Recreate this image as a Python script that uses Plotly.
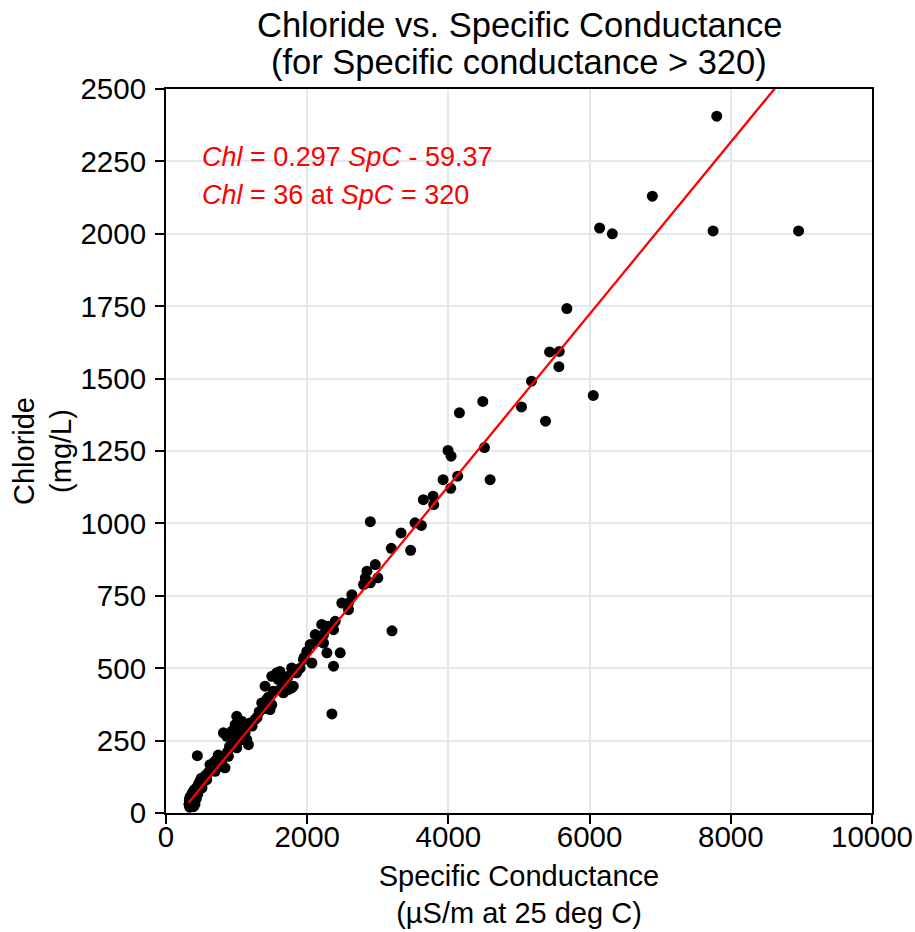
import plotly.graph_objects as go

# Specific conductance (µS/m at 25 deg C)
spc = [325, 330, 335, 340, 345, 350, 355, 360, 365, 370, 375, 380, 385, 390, 395,
       400, 405, 410, 415, 420, 430, 440, 450, 460, 470, 480, 444, 490, 500, 510,
       520, 540, 560, 577, 600, 624, 640, 660, 680, 695, 695, 720, 740, 766, 789,
       813, 836, 860, 870, 884, 900, 931, 931, 950, 979, 1002, 1002, 1020, 1050, 1073,
       1073, 1100, 1120, 1144, 1167, 1191, 1220, 1262, 1290, 1320, 1356, 1380, 1403, 1427, 1450,
       1473, 1498, 1498, 1520, 1568, 1592, 1615, 1615, 1639, 1662, 1686, 1733, 1733, 1780, 1780,
       1804, 1851, 1900, 1947, 1957, 1995, 2043, 2066, 2113, 2137, 2160, 2206, 2231, 2231, 2279,
       2302, 2350, 2373, 2373, 2397, 2468, 2490, 2585, 2585, 2633, 2799, 2823, 2846, 2894, 2894,
       2964, 3000, 3191, 3201, 3329, 3465, 3527, 3617, 3645, 3783, 3792, 3925, 3995, 4033, 4038,
       4132, 4156, 4487, 4511, 4591, 5035, 5177, 5376, 5433, 5565, 5570, 5678, 6052, 6142, 6322,
       6889, 7749, 7801, 8960]
# Chloride (mg/L)
chloride = [30, 45, 20, 55, 35, 25, 60, 40, 50, 28, 70, 35, 45, 22, 62,
            80, 40, 30, 55, 75, 50, 90, 65, 100, 85, 110, 198, 95, 120, 87,
            105, 115, 130, 115, 140, 167, 150, 160, 175, 144, 178, 185, 200, 161, 178,
            277, 156, 265, 210, 196, 230, 271, 282, 240, 305, 225, 334, 260, 290, 253,
            317, 300, 277, 253, 236, 311, 300, 323, 330, 350, 380, 360, 438, 392, 400,
            357, 374, 472, 420, 484, 461, 426, 489, 461, 415, 455, 472, 426, 432, 501,
            438, 484, 500, 530, 537, 558, 582, 518, 616, 610, 593, 651, 587, 616, 553,
            645, 342, 507, 633, 662, 553, 725, 702, 725, 754, 789, 812, 835, 795, 1006,
            858, 812, 914, 629, 967, 907, 1002, 993, 1082, 1094, 1065, 1151, 1252, 1121, 1232,
            1163, 1382, 1421, 1262, 1151, 1402, 1491, 1353, 1592, 1541, 1594, 1742, 1442, 2020, 2000,
            2130, 2010, 2406, 2010]

# Regression line: Chl = 0.297 SpC - 59.37 (for SpC > 320)
slope = 0.297
intercept = -59.37
fit_x = [320, 10000]
fit_y = [slope * v + intercept for v in fit_x]

x_ticks = [0, 2000, 4000, 6000, 8000, 10000]
y_ticks = [0, 250, 500, 750, 1000, 1250, 1500, 1750, 2000, 2250, 2500]

title_lines = ["Chloride vs. Specific Conductance", "(for Specific conductance > 320)"]
eq_lines = ["<i>Chl</i> = 0.297 <i>SpC</i> - 59.37", "<i>Chl</i> = 36 at <i>SpC</i> = 320"]

FONT = "Liberation Sans, Arial, sans-serif"

fig = go.Figure()
fig.add_trace(go.Scatter(
    x=spc, y=chloride, mode="markers",
    marker=dict(color="black", size=11, line=dict(width=0)),
    showlegend=False, hoverinfo="x+y"))
fig.add_trace(go.Scatter(
    x=fit_x, y=fit_y, mode="lines",
    line=dict(color="red", width=2.3), showlegend=False))

axis_common = dict(showgrid=True, gridcolor="#e1eaea", gridwidth=2,
                   showline=True, linecolor="black", linewidth=2, mirror=True,
                   ticks="outside", ticklen=9, tickwidth=2, tickcolor="black",
                   zeroline=False, automargin=False,
                   tickfont=dict(size=29.5, family=FONT, color="black"))

fig.update_layout(
    width=915, height=932,
    paper_bgcolor="white", plot_bgcolor="white",
    margin=dict(l=166, r=43, t=89, b=119),
    font=dict(family=FONT, size=29, color="black"),
    xaxis=dict(range=[0, 10000], tickvals=x_ticks, ticktext=[str(v) for v in x_ticks],
               ticklabelstandoff=-12,
               title=dict(text="Specific Conductance<br>(µS/m at 25 deg C)", standoff=13,
                          font=dict(size=29)),
               **axis_common),
    yaxis=dict(range=[0, 2500], tickvals=y_ticks, ticktext=[str(v) for v in y_ticks],
               ticklabelstandoff=3,
               title=dict(text="Chloride<br>(mg/L)", standoff=0, font=dict(size=29)),
               **axis_common),
)

# Title (two lines, tighter spacing than plotly's default line height)
fig.add_annotation(xref="paper", yref="paper", x=0.5, y=1.0884,
                   xanchor="center", yanchor="middle", showarrow=False, borderpad=0,
                   text=title_lines[0], font=dict(size=34.5, family=FONT, color="black"))
fig.add_annotation(xref="paper", yref="paper", x=0.5, y=1.0373,
                   xanchor="center", yanchor="middle", showarrow=False, borderpad=0,
                   text=title_lines[1], font=dict(size=34.5, family=FONT, color="black"))

fig.add_annotation(xref="paper", yref="paper", x=0.048, y=0.9066,
                   xanchor="left", yanchor="middle", showarrow=False,
                   text=eq_lines[0], font=dict(color="red", size=27, family=FONT))
fig.add_annotation(xref="paper", yref="paper", x=0.048, y=0.854,
                   xanchor="left", yanchor="middle", showarrow=False,
                   text=eq_lines[1], font=dict(color="red", size=27, family=FONT))

# Remove the page's default 8px body margin so the figure fills the window exactly.
fig.write_html("out.html",
               config={"displayModeBar": False},
               post_script="document.body.style.margin='0';"
                           "document.body.style.overflow='hidden';")
